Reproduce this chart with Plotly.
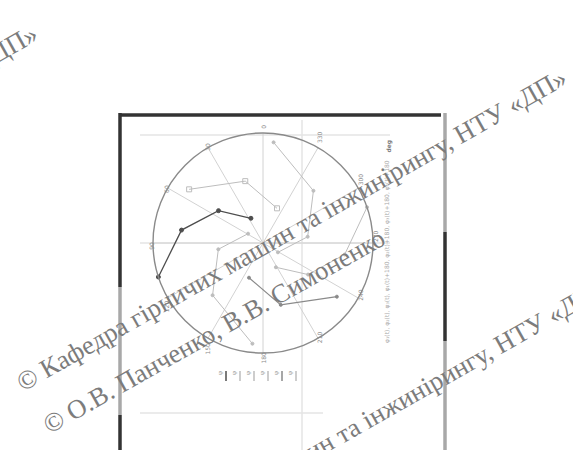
import plotly.graph_objects as go

W, H = 573, 450

# Polar trajectories: radius (% of full scale) and angle (degrees, CCW from top)
s1_r = [25, 50, 75, 100]
s1_theta = [26, 54, 81, 108]
s2_r = [34, 58.5, 83]
s2_theta = [338, 16, 54]
s3_r = [92, 66, 41, 16]
s3_theta = [354, 316, 278, 238]
s4_r = [25, 50, 75, 100]
s4_theta = [208, 235, 262, 289]
s5_r = [34, 58.5, 83]
s5_theta = [158, 196, 234]
s6_r = [92, 66, 41, 16]
s6_theta = [174, 136, 98, 58]

series_names = ["φ₁", "φ₂", "φ₃", "φ₁+180", "φ₂+180", "φ₃+180"]
angle_ticks = list(range(0, 360, 30))

wm_line_a = "© Кафедра гірничих машин та інжинірингу, НТУ «ДП»"
wm_line_b = "© О.В. Панченко, В.В. Симоненко"
right_caption = ("φ₁(t), φ₂(t), φ₃(t), φ₁(t)+180, φ₂(t)+180, "
                 "φ₃(t)+180, φ₄(t)+180")


def px(x):
    return x / W


def py(y):
    return 1 - y / H


DARK = "#4e4e4e"
MID = "#8a8a8a"
LIGHT = "#bdbdbd"

styles = [
    dict(color=DARK, width=1.3, symbol="circle", size=4),
    dict(color=LIGHT, width=1.0, symbol="square-open", size=5),
    dict(color=LIGHT, width=1.0, symbol="circle", size=3),
    dict(color=LIGHT, width=1.0, symbol="circle", size=3),
    dict(color=MID, width=1.2, symbol="circle", size=3),
    dict(color=LIGHT, width=1.0, symbol="circle", size=3),
]
data = [(s1_r, s1_theta), (s2_r, s2_theta), (s3_r, s3_theta),
        (s4_r, s4_theta), (s5_r, s5_theta), (s6_r, s6_theta)]

fig = go.Figure()
for (r, th), st, name in zip(data, styles, series_names):
    fig.add_trace(go.Scatterpolar(
        r=r, theta=th, mode="lines+markers", name=name,
        line=dict(color=st["color"], width=st["width"]),
        marker=dict(symbol=st["symbol"], size=st["size"], color=st["color"],
                    line=dict(color=st["color"], width=1)),
        showlegend=False,
    ))

fig.update_layout(
    width=W, height=H, autosize=False,
    margin=dict(l=0, r=0, t=0, b=0),
    paper_bgcolor="white", plot_bgcolor="white",
    polar=dict(
        domain=dict(x=[px(153), px(373)], y=[py(353), py(133)]),
        bgcolor="rgba(0,0,0,0)",
        angularaxis=dict(
            rotation=90, direction="counterclockwise",
            tickmode="array", tickvals=angle_ticks,
            ticktext=[str(a) for a in angle_ticks],
            showgrid=True, gridcolor="#d2d2d2", gridwidth=1,
            showline=True, linecolor="#8a8a8a", linewidth=1.4,
            ticks="", tickangle=-90,
            tickfont=dict(family="DejaVu Sans", size=6, color="#8a8a8a"),
        ),
        radialaxis=dict(range=[0, 100], showgrid=False, showline=False,
                        showticklabels=False, ticks=""),
    ),
)

shapes = []
# faint ruling of the page behind the diagram
for x0, y0, x1, y1 in [(140, 135, 390, 135), (140, 243, 390, 243),
                       (140, 413, 323, 413), (302, 120, 302, 452)]:
    shapes.append(dict(type="line", xref="paper", yref="paper", layer="below",
                       x0=px(x0), y0=py(y0), x1=px(x1), y1=py(y1),
                       line=dict(color="#e4e4e4", width=1.5)))

# frame of the page
frame = [
    (119, 115, 441, 115, "#333333"),
    (120, 113, 120, 287, "#333333"),
    (120, 287, 120, 415, "#a8a8a8"),
    (120, 415, 120, 452, "#333333"),
    (445, 113, 445, 232, "#a8a8a8"),
    (445, 232, 445, 341, "#333333"),
    (445, 341, 445, 452, "#a8a8a8"),
]
for x0, y0, x1, y1, c in frame:
    shapes.append(dict(type="line", xref="paper", yref="paper",
                       x0=px(x0), y0=py(y0), x1=px(x1), y1=py(y1),
                       line=dict(color=c, width=3.5)))

# compact legend row under the diagram
legend_colors = [DARK, LIGHT, LIGHT, LIGHT, MID, LIGHT]
annotations = []
for i, (name, c) in enumerate(zip(series_names, legend_colors)):
    x = 220 + i * 14
    shapes.append(dict(type="line", xref="paper", yref="paper",
                       x0=px(x + 6), y0=py(371), x1=px(x + 6), y1=py(381),
                       line=dict(color=c, width=1.5)))
    annotations.append(dict(xref="paper", yref="paper", x=px(x), y=py(377),
                            text="φ", showarrow=False, textangle=-90,
                            font=dict(family="DejaVu Serif", size=6, color="#999999")))

# rotated caption on the right
annotations.append(dict(xref="paper", yref="paper", x=px(393), y=py(252),
                        text=right_caption, showarrow=False, textangle=-90,
                        font=dict(family="DejaVu Sans", size=6, color="#a8a8a8")))
annotations.append(dict(xref="paper", yref="paper", x=px(394), y=py(138),
                        text="<b>deg</b>", showarrow=False, textangle=-90,
                        font=dict(family="DejaVu Sans", size=6, color="#777777")))

# copyright watermark
wm_font = dict(family="Liberation Serif", size=26.5, color="#7c7c7c")
for text, cx, cy in [(wm_line_a, -238, 186), (wm_line_a, 291, 230),
                     (wm_line_b, 214, 331), (wm_line_a, 331, 440)]:
    annotations.append(dict(xref="paper", yref="paper", x=px(cx), y=py(cy),
                            xanchor="center", yanchor="middle",
                            text=text, showarrow=False, textangle=-29.5,
                            font=wm_font))

fig.update_layout(shapes=shapes, annotations=annotations)
fig.write_html("out.html")
